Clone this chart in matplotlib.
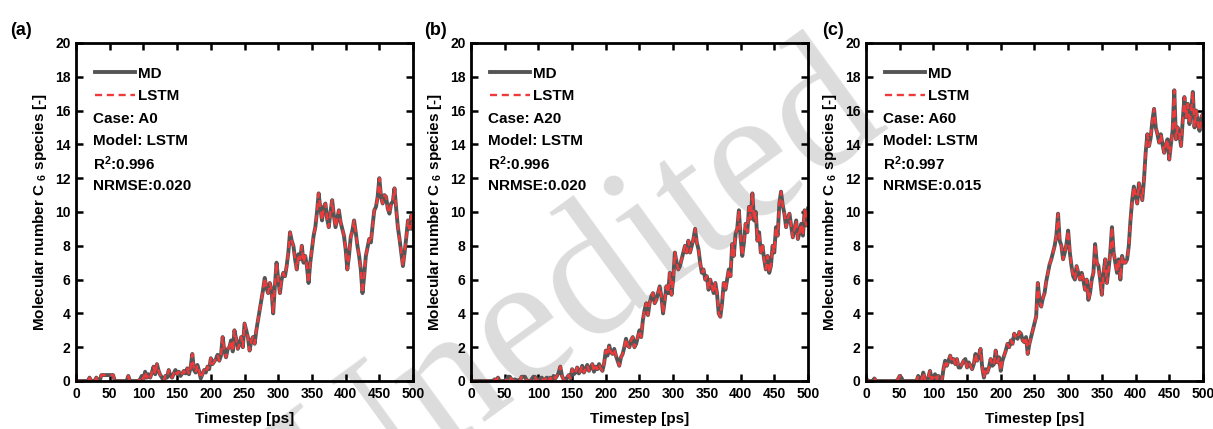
import numpy as np
from matplotlib import pyplot as plt
from matplotlib.ticker import MultipleLocator

plt.rcParams['font.family'] = ['Liberation Sans', 'DejaVu Sans']
plt.rcParams['font.weight'] = 'bold'
plt.rcParams['mathtext.fontset'] = 'custom'
plt.rcParams['mathtext.rm'] = 'Liberation Sans:bold'
plt.rcParams['mathtext.bf'] = 'Liberation Sans:bold'
plt.rcParams['mathtext.default'] = 'bf'

# sampling grid of the traces (every 2.5 ps)
timestep = np.linspace(0, 500, 201)

# panel (a) case A0
c6_a0 = [
    0, 0, 0, 0, 0, 0, 0, 0, 0.2, 0, 0, 0, 0.2, 0, 0, 0.35, 0.35, 0.35, 0.35, 0.35,
    0.35, 0.35, 0.35, 0, 0, 0, 0, 0, 0, 0, 0, 0.3, 0, 0, 0, 0, 0, 0, 0.1, 0.3,
    0.1, 0.55, 0.2, 0.4, 0.2, 0.5, 0.85, 0.4, 1.0, 0.6, 0.35, 0.2, 0, 0.3, 0.2, 0.65, 0.3, 0.2, 0.45, 0.65,
    0.4, 0.55, 0.3, 0.45, 0.6, 0.45, 0.75, 0.4, 0.8, 1.6, 0.65, 0.5, 0.95, 0.6, 0.15, 0.4, 0.65, 0.5, 0.85, 0.7,
    1.35, 1.0, 1.15, 1.3, 1.55, 1.2, 1.5, 2.6, 1.8, 1.4, 1.9, 2.0, 2.4, 1.75, 3.0, 2.5, 1.9, 2.2, 2.6, 2.0,
    3.4, 3.0, 2.6, 1.8, 2.4, 2.6, 2.2, 3.0, 3.6, 4.2, 4.8, 5.4, 6.1, 5.5, 5.2, 5.8, 5.4, 4.0, 5.6, 7.0,
    6.0, 5.2, 6.0, 6.4, 6.2, 6.8, 7.6, 8.8, 8.3, 8.0, 7.2, 6.6, 7.5, 7.2, 8.0, 7.0, 7.4, 6.8, 5.8, 7.0,
    7.8, 8.6, 9.1, 10.0, 11.1, 10.2, 9.5, 10.3, 10.5, 9.6, 9.1, 10.0, 10.7, 9.8, 9.1, 9.6, 10.1, 9.4, 9.0, 8.6,
    7.8, 6.6, 7.4, 8.5, 8.9, 9.5, 8.8, 8.0, 7.4, 6.6, 5.2, 6.2, 7.4, 7.9, 8.4, 8.2, 9.2, 10.1, 10.3, 10.9,
    12.0, 10.9, 10.5, 11.0, 10.9, 10.2, 9.9, 10.5, 10.6, 11.4, 10.2, 9.1, 8.4, 7.6, 6.8, 7.6, 8.5, 9.5, 9.0, 9.8,
    9.0,
]

# panel (b) case A20
c6_a20 = [
    0, 0, 0, 0, 0, 0, 0, 0, 0, 0, 0, 0, 0, 0, 0.1, 0, 0.2, 0, 0, 0,
    0, 0.05, 0.25, 0.25, 0.1, 0, 0.1, 0, 0.05, 0, 0.25, 0.25, 0.25, 0.05, 0, 0, 0.1, 0.25, 0.25, 0.05,
    0, 0.15, 0.2, 0, 0.1, 0.2, 0, 0.2, 0.05, 0.3, 0.15, 0.3, 0.5, 0.85, 0.3, 0.1, 0, 0.2, 0.35, 0.15,
    0.7, 0.4, 0.5, 0.8, 0.45, 0.6, 0.9, 0.5, 0.7, 0.95, 0.6, 0.8, 1.0, 0.55, 0.85, 0.7, 1.0, 0.75, 0.6, 1.05,
    1.8, 1.5, 2.1, 1.7, 1.6, 1.9, 1.5, 1.2, 0.9, 1.4, 1.6, 2.0, 2.5, 2.1, 2.0, 2.4, 2.6, 2.0, 2.2, 2.6,
    3.0, 2.6, 3.6, 4.2, 4.6, 3.9, 4.6, 5.0, 5.2, 4.6, 4.8, 5.2, 5.6, 5.0, 4.0, 4.8, 5.6, 5.2, 6.4, 5.1,
    6.0, 7.6, 7.0, 6.6, 6.8, 7.2, 7.6, 8.0, 7.6, 8.3, 7.6, 8.0, 8.4, 9.0, 8.2, 7.8, 7.0, 6.4, 6.6, 6.0,
    6.2, 5.4, 6.0, 5.6, 5.2, 5.8, 5.2, 4.0, 3.8, 4.6, 5.8, 5.4, 6.0, 6.6, 6.2, 8.1, 7.4, 8.7, 9.0, 10.1,
    8.5, 7.4, 8.2, 9.3, 8.8, 10.3, 9.6, 11.1, 9.5, 10.0, 8.3, 8.8, 7.6, 8.0, 7.2, 6.6, 7.4, 6.4, 6.8, 8.0,
    7.6, 9.1, 8.6, 10.5, 11.2, 10.4, 9.9, 9.1, 9.6, 9.9, 9.2, 8.5, 9.0, 9.5, 8.4, 8.8, 9.3, 8.6, 10.1, 9.2,
    10.2,
]

# panel (c) case A60
c6_a60 = [
    0.2, 0, 0, 0, 0, 0.15, 0, 0, 0, 0, 0, 0, 0, 0, 0, 0, 0, 0, 0, 0.1,
    0.3, 0.2, 0, 0, 0, 0, 0, 0, 0, 0, 0, 0.3, 0.1, 0, 0.5, 0.1, 0, 0.2, 0.6, 0.1,
    0.2, 0.4, 0.1, 0.3, 0.1, 0, 0.7, 1.2, 0.9, 1.2, 1.5, 1.1, 1.3, 1.0, 1.3, 0.8, 0.8, 1.0, 1.2, 1.3,
    0.8, 1.1, 0.9, 0.7, 1.0, 1.6, 1.2, 1.5, 1.9, 0.8, 0.2, 0.7, 0.5, 0.8, 1.3, 0.9, 1.0, 1.8, 1.1, 1.4,
    0.6, 1.2, 1.5, 1.8, 2.2, 2.0, 2.4, 2.2, 2.8, 2.6, 2.5, 2.9, 2.8, 2.4, 2.3, 2.6, 1.6, 2.2, 2.6, 3.0,
    3.4, 3.8, 5.8, 4.8, 4.4, 4.9, 5.2, 5.9, 6.4, 6.9, 7.2, 7.6, 8.0, 8.6, 9.9, 8.3, 8.0, 7.2, 7.6, 8.1,
    8.9, 7.6, 6.8, 6.2, 6.0, 6.8, 6.4, 6.0, 6.4, 6.0, 5.4, 6.0, 4.8, 5.2, 6.0, 6.4, 8.1, 7.0, 6.8, 6.0,
    5.1, 6.4, 7.2, 5.8, 6.6, 7.6, 9.1, 7.6, 7.0, 6.4, 7.2, 6.0, 7.4, 7.0, 7.0, 7.2, 8.0, 9.5, 10.7, 11.5,
    11.0, 10.5, 11.7, 11.2, 10.7, 11.9, 13.5, 14.6, 13.9, 14.4, 15.4, 16.1, 15.0, 14.6, 14.1, 14.6, 14.0, 13.5, 14.0, 14.3,
    13.1, 14.0, 14.8, 17.2, 14.3, 15.0, 14.6, 13.9, 15.4, 16.8, 15.6, 16.4, 15.2, 16.0, 17.1, 15.0, 16.0, 15.2, 14.8, 15.6,
    15.8,
]

panel_labels = ['(a)', '(b)', '(c)']
cases = ['A0', 'A20', 'A60']
r2_scores = ['0.996', '0.996', '0.997']
nrmse_scores = ['0.020', '0.020', '0.015']
md_series = [c6_a0, c6_a20, c6_a60]
# LSTM prediction overlays MD so closely that the two cannot be told apart
lstm_series = [c6_a0, c6_a20, c6_a60]

fig = plt.figure(figsize=(12.13, 4.29), dpi=100)

# watermark behind everything
fig.text(0.503, 0.235, 'Unedited', rotation=36, rotation_mode='anchor', fontsize=136,
         color='#dcdcdc', family='Liberation Serif', fontweight='normal',
         ha='center', va='baseline', zorder=-1)

lefts = [0.0627, 0.3883, 0.7139]
label_x = [0.008, 0.350, 0.678]

for i in range(3):
    ax = fig.add_axes([lefts[i], 0.1119, 0.2778, 0.788])
    ax.set_facecolor('none')
    ax.plot(timestep, md_series[i], color='#555555', lw=2.8, label='MD')
    ax.plot(timestep, lstm_series[i], color='#ee3a3a', lw=1.7, ls=(0, (3, 2)), label='LSTM')

    ax.set_xlim(0, 500)
    ax.set_ylim(0, 20)
    ax.xaxis.set_major_locator(MultipleLocator(50))
    ax.yaxis.set_major_locator(MultipleLocator(2))
    ax.tick_params(direction='in', top=True, right=True, length=5, width=1.8,
                   labelsize=10, pad=4)
    for sp in ax.spines.values():
        sp.set_linewidth(2)

    ax.set_xlabel('Timestep [ps]', fontsize=11, fontweight='bold', labelpad=8)
    ax.set_ylabel('Molecular number C $_{6}$ species [-]', fontsize=11,
                  fontweight='bold', labelpad=4)

    ax.legend(loc='upper left', bbox_to_anchor=(0.056, 0.93), frameon=False,
              fontsize=11, handlelength=2.6, handletextpad=0.2, labelspacing=0.55,
              borderaxespad=0, borderpad=0)

    stats = ['Case: ' + cases[i], 'Model: LSTM', 'R$^{2}$:' + r2_scores[i],
             'NRMSE:' + nrmse_scores[i]]
    for k, line in enumerate(stats):
        ax.text(0.05, 0.775 - 0.066 * k, line, transform=ax.transAxes,
                fontsize=11, fontweight='bold', va='center', ha='left')

    fig.text(label_x[i], 0.93, panel_labels[i], fontsize=13, fontweight='bold',
             va='center', ha='left')

fig.savefig('out.png', dpi=100)
